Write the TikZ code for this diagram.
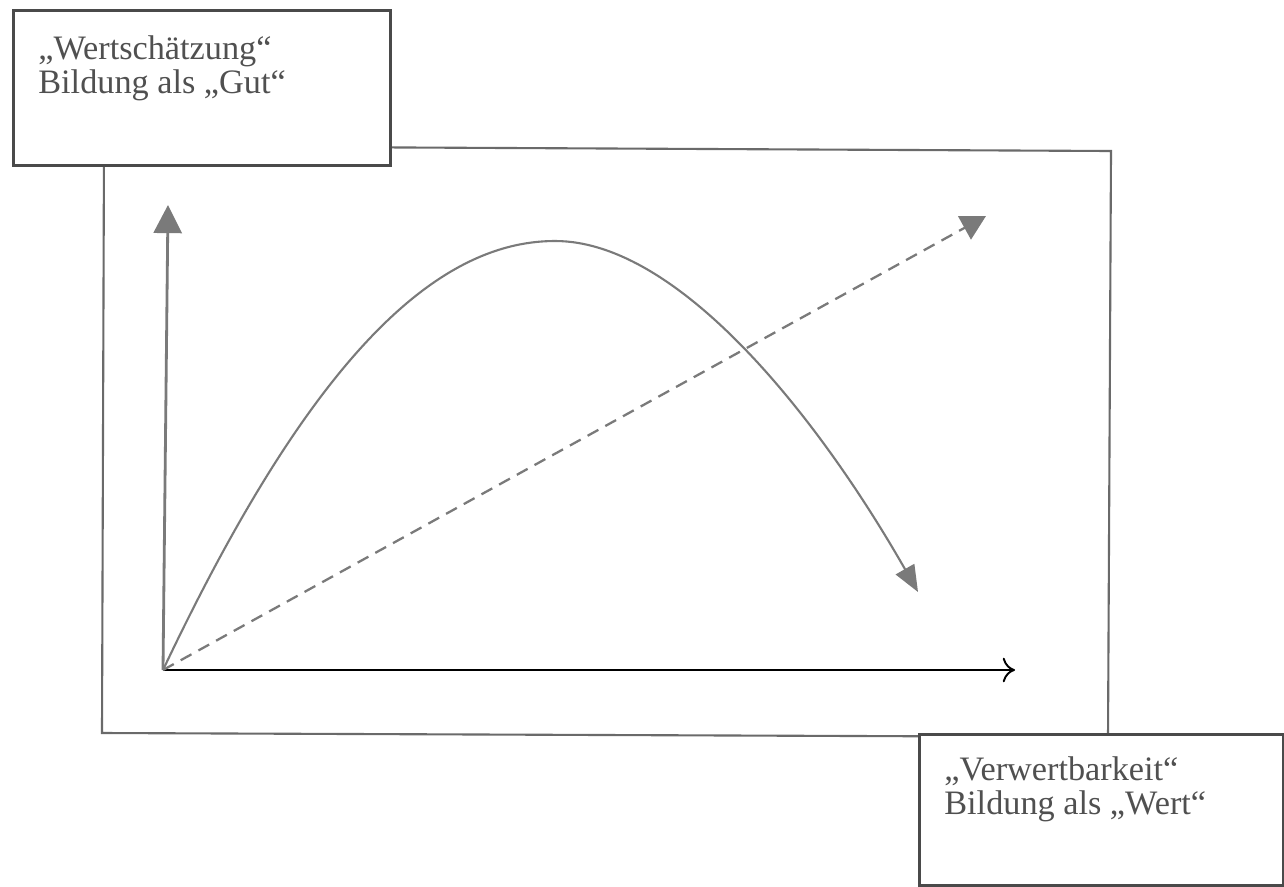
\documentclass[tikz,border=0pt]{standalone}
\usepackage{fontspec}
\setmainfont{Liberation Serif}
\usetikzlibrary{arrows.meta}
\definecolor{boxline}{HTML}{4A4A4A}
\definecolor{frameline}{HTML}{6A6A6A}
\definecolor{graycurve}{HTML}{7A7A7A}
\definecolor{textgray}{HTML}{505050}
\tikzset{
  labelbox/.style={draw=boxline, line width=1.5pt, fill=white},
  labeltext/.style={anchor=north west, inner sep=0pt, align=left, text=textgray,
    font=\fontsize{19.5}{19.5}\selectfont},
  grayarrow/.style={draw=graycurve, line width=1.6pt,
    -{Triangle[length=16pt,width=16pt]}},
  curvearrow/.style={draw=graycurve, line width=1.2pt,
    -{Triangle[length=15pt,width=12pt]}},
  dasharrow/.style={draw=graycurve, line width=1.3pt, dash pattern=on 7pt off 4.5pt,
    -{Triangle[length=14pt,width=15pt]}},
  xaxis/.style={draw=black, line width=1.1pt, -{To[length=7pt,width=14pt,line width=1.1pt]}}
}
\begin{document}
\begin{tikzpicture}[x=0.02cm,y=-0.02cm]
\useasboundingbox (0,0) rectangle (1284,886);
% main frame
\draw[frameline, line width=1.2pt] (104,146) -- (1111,151) -- (1108,737) -- (102,733) -- cycle;
% label boxes
\node[labelbox, minimum width=377*0.02cm, minimum height=155*0.02cm, anchor=north west, inner sep=0pt] (gutbox) at (12,9) {};
\node[labelbox, minimum width=364*0.02cm, minimum height=151*0.02cm, anchor=north west, inner sep=0pt] (wertbox) at (918,733) {};
\node[labeltext] (guttext) at (38,35) {„Wertschätzung“\\Bildung als „Gut“};
\node[labeltext] (werttext) at (944,756) {„Verwertbarkeit“\\Bildung als „Wert“};
% coordinates
\coordinate (origin) at (163,670);
\coordinate (ytip) at (168,205);
\coordinate (xtip) at (1015,670);
\coordinate (peak) at (555,241);
\coordinate (ctip) at (918,592);
\coordinate (dtip) at (986,216);
% axes
\draw[grayarrow] (origin) -- (ytip);
\draw[xaxis] (origin) -- (xtip);
% curve
\draw[curvearrow] (origin) .. controls (305,370) and (430,241) .. (peak)
  .. controls (680,241) and (820,420) .. (ctip);
% dashed line
\draw[dasharrow] (origin) -- (dtip);
\end{tikzpicture}
\end{document}
